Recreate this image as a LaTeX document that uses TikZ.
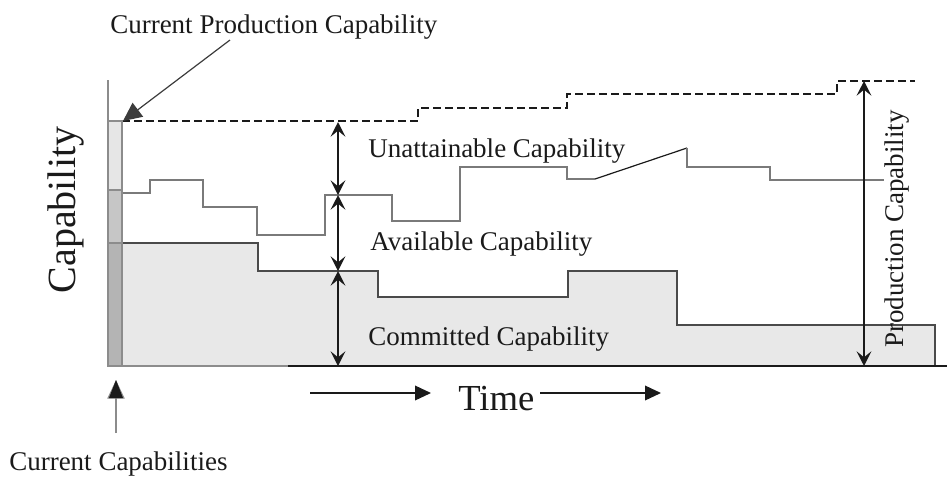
\documentclass[tikz,border=0pt]{standalone}
\usepackage{fontspec}
\setmainfont{Liberation Serif}
\usetikzlibrary{arrows.meta}

\definecolor{inkc}{HTML}{1A1A1A}
\definecolor{commitfill}{HTML}{E8E8E8}
\definecolor{commitline}{HTML}{4A4A4A}
\definecolor{availline}{HTML}{7A7A7A}
\definecolor{barlight}{HTML}{E6E6E6}
\definecolor{barmid}{HTML}{C6C6C6}
\definecolor{bardark}{HTML}{B4B4B4}
\definecolor{axisgray}{HTML}{8C8C8C}

\tikzset{
  lbl/.style={inner sep=0pt, text=inkc, font=\fontsize{20.25pt}{22pt}\selectfont},
  biglbl/.style={inner sep=0pt, text=inkc, font=\fontsize{30pt}{32pt}\selectfont},
  timelbl/.style={inner sep=0pt, text=inkc, font=\fontsize{27.5pt}{30pt}\selectfont},
  stepline/.style={availline, line width=1.3pt, line join=miter},
  commitedge/.style={commitline, line width=1.1pt, line join=miter},
  prodline/.style={inkc, line width=1.1pt, dash pattern=on 6pt off 3pt},
  span/.style={inkc, line width=1.2pt, {Stealth[length=11pt,width=11pt,inset=4.5pt]}-{Stealth[length=11pt,width=11pt,inset=4.5pt]}},
  callout/.style={line width=0.9pt, -{Triangle[length=14pt,width=13pt]}},
  timearrow/.style={inkc, line width=1.1pt, -{Triangle[length=12pt,width=11pt]}},
}

\begin{document}
\begin{tikzpicture}[x=0.75pt,y=-0.75pt]
\useasboundingbox (0,0) rectangle (947,476);

% committed capability region
\fill[commitfill] (122,366) -- (122,243) -- (258,243) -- (258,271) -- (378,271)
  -- (378,297) -- (568,297) -- (568,271) -- (677,271) -- (677,325)
  -- (935,325) -- (935,366) -- cycle;
\draw[commitedge] (122,243) -- (258,243) -- (258,271) -- (378,271)
  -- (378,297) -- (568,297) -- (568,271) -- (677,271) -- (677,325)
  -- (935,325) -- (935,366);

% available capability (upper step line)
\draw[stepline] (122,193) -- (150,193) -- (150,180) -- (203,180) -- (203,207)
  -- (257,207) -- (257,235) -- (325,235) -- (325,195) -- (392,195) -- (392,221)
  -- (460,221) -- (460,167) -- (567,167) -- (567,179) -- (595,179);
\draw[inkc, line width=0.9pt] (595,179) -- (687,148);
\draw[stepline] (687,148) -- (687,167) -- (770,167) -- (770,180) -- (884,180);

% production capability (dashed)
\draw[prodline] (122,121) -- (418,121) -- (418,108) -- (567,108) -- (567,94)
  -- (837,94) -- (837,81) -- (915,81);

% current capability bar
\draw[axisgray, line width=0.8pt, fill=barlight] (108,121) rectangle (122,190);
\draw[axisgray, line width=0.8pt, fill=barmid] (108,190) rectangle (122,243);
\draw[axisgray, line width=0.8pt, fill=bardark] (108,243) rectangle (122,366);

% axes
\draw[axisgray, line width=1.1pt] (108,80) -- (108,366);
\draw[axisgray, line width=1.1pt] (108,366) -- (288,366);
\draw[inkc, line width=1.2pt] (288,366) -- (947,366);

% span markers
\coordinate (uTop) at (338,122);
\coordinate (uBot) at (338,195);
\coordinate (cTop) at (338,271);
\coordinate (cBot) at (338,366);
\coordinate (pTop) at (864,81);
\coordinate (pBot) at (864,366);
\draw[span] (uTop) -- (uBot);
\draw[span] (uBot) -- (cTop);
\draw[span] (cTop) -- (cBot);
\draw[span] (pTop) -- (pBot);

% labels
\node[lbl, anchor=base west] (cpc) at (110,33) {Current Production Capability};
\node[lbl, anchor=base west] (unatt) at (368,157) {Unattainable Capability};
\node[lbl, anchor=base west] (avail) at (370,250) {Available Capability};
\node[lbl, anchor=base west] (commit) at (368,345) {Committed Capability};
\node[lbl, anchor=base west] (curcap) at (9,470) {Current Capabilities};
\node[biglbl, rotate=90, anchor=base] (capy) at (75,210) {Capability};
\node[lbl, rotate=90, anchor=base] (prodcap) at (903,229) {Production Capability};
\node[timelbl, anchor=base west] (time) at (458,410) {Time};

% callout arrows
\coordinate (cpcFrom) at (230,40);
\coordinate (cpcTip) at (123,121);
\draw[callout, inkc!85] (cpcFrom) -- (cpcTip);
\coordinate (ccFrom) at (116,433);
\coordinate (ccTip) at (116,380);
\draw[callout, axisgray] (ccFrom) -- (ccTip);
\fill[inkc] (ccTip) -- ++(-7,18) -- ++(14,0) -- cycle;

% time arrows
\coordinate (tL1) at (310,393);
\coordinate (tL2) at (431,393);
\coordinate (tR1) at (540,393);
\coordinate (tR2) at (661,393);
\draw[timearrow] (tL1) -- (tL2);
\draw[timearrow] (tR1) -- (tR2);
\end{tikzpicture}
\end{document}
